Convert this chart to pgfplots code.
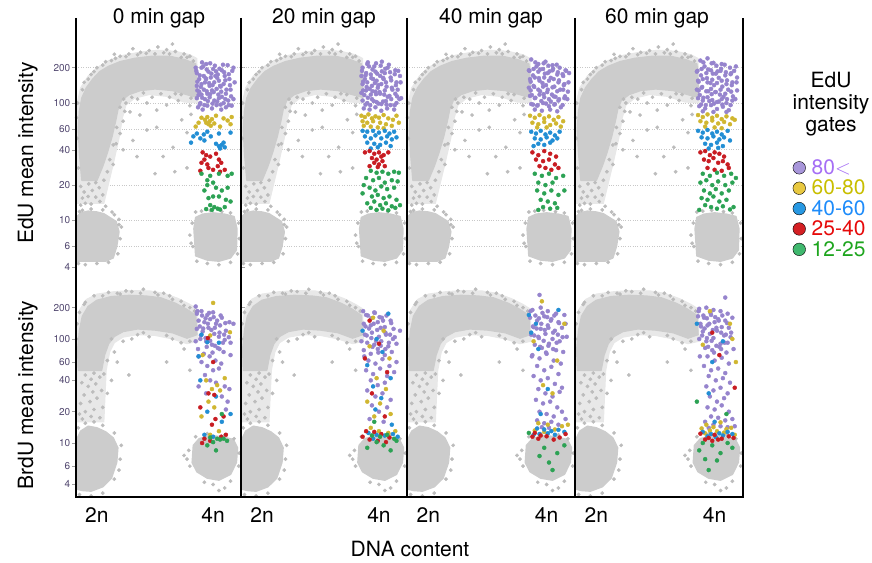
\documentclass[border=0pt]{standalone}
\usepackage{fontspec}
\setmainfont{TeX Gyre Heros}
\usepackage{pgfplots}
\usepackage{pgfplotstable}
\pgfplotsset{compat=1.18}

\definecolor{ptgrey}{RGB}{188,188,188}
\definecolor{blobgrey}{RGB}{204,204,204}
\definecolor{halogrey}{RGB}{232,232,232}
\definecolor{gridgrey}{RGB}{200,200,200}
\definecolor{tickgrey}{RGB}{160,160,160}
\definecolor{ticktext}{RGB}{80,70,110}
\definecolor{gpur}{RGB}{150,132,205}
\definecolor{gyel}{RGB}{208,182,48}
\definecolor{gblu}{RGB}{34,142,212}
\definecolor{gred}{RGB}{200,28,34}
\definecolor{ggrn}{RGB}{44,162,84}
\definecolor{mpur}{RGB}{168,150,218}
\definecolor{myel}{RGB}{232,200,64}
\definecolor{mblu}{RGB}{40,152,226}
\definecolor{mred}{RGB}{212,32,36}
\definecolor{mgrn}{RGB}{64,184,110}
\definecolor{lpur}{RGB}{165,110,245}
\definecolor{lyel}{RGB}{200,190,0}
\definecolor{lblu}{RGB}{30,140,250}
\definecolor{lred}{RGB}{230,10,10}
\definecolor{lgrn}{RGB}{30,165,30}

\newcommand\bigf{\fontsize{21}{24}\selectfont}

% grey populations, top row (EdU)
\pgfplotstableread{
x y
1.66 4.5
1.66 10.8
1.72 11.6
1.85 12.0
2.00 11.8
2.12 11.4
2.22 10.6
2.33 9.8
2.38 8.0
2.34 6.0
2.28 4.8
2.15 4.5
}\topTwoN
\pgfplotstableread{
x y
3.70 5.0
3.67 8.5
3.70 10.6
3.82 11.3
4.00 11.6
4.20 11.3
4.36 10.8
4.41 8.5
4.40 5.6
4.30 4.8
4.10 4.5
3.90 4.6
}\topFourN
\pgfplotstableread{
x y
1.66 14
1.65 60
1.66 100
1.72 135
1.85 170
2.00 200
2.20 230
2.45 255
2.75 272
3.05 282
3.35 276
3.60 258
3.72 240
3.74 100
3.50 102
3.20 114
2.90 118
2.65 110
2.50 96
2.44 75
2.38 50
2.28 30
2.12 14
}\topHalo
\pgfplotstableread{
x y
1.74 22
1.70 38
1.68 60
1.70 85
1.74 110
1.82 135
1.93 160
2.05 185
2.20 205
2.40 225
2.65 240
2.95 250
3.25 250
3.50 235
3.70 215
3.72 150
3.72 112
3.55 118
3.30 128
3.00 132
2.75 128
2.55 118
2.42 105
2.36 88
2.32 70
2.26 52
2.18 38
2.10 29
2.00 22
}\topArch
\pgfplotstableread{
x y
1.68 4.3
1.80 4.2
2.00 4.3
2.20 4.4
2.40 7.0
2.42 8.8
2.38 10.2
2.30 11.2
2.10 12.3
1.90 12.5
1.75 12.2
2.36 5.2
1.70 11.9
1.72 13.5
1.80 14.0
1.90 13.8
2.05 14.5
2.15 13.2
1.75 15.5
1.85 16.0
1.98 15.8
2.10 16.5
1.78 17.5
1.92 18.0
2.04 19.0
1.72 19.5
1.86 20.5
1.98 21.0
2.12 22.0
2.18 26.0
2.22 33.0
1.68 28.0
2.28 44.0
2.34 62.0
1.66 50
1.65 75
1.67 100
1.75 130
1.85 160
1.95 185
2.10 210
2.25 230
2.40 250
2.55 262
2.75 270
2.90 280
3.05 300
3.20 285
3.35 275
3.50 262
3.60 250
2.30 260
2.62 290
2.85 265
3.15 268
3.30 318
2.15 225
3.45 245
1.78 150
2.00 200
1.90 175
2.32 240
2.50 248
2.70 258
3.00 262
3.25 262
3.55 245
3.66 228
2.57 84
2.74 79
2.86 59
3.03 62
2.62 48
2.69 35
3.14 35
3.34 26
3.31 42
3.55 56
3.46 72
3.20 96
2.86 100
3.03 87
2.45 70
2.40 55
2.33 45
2.50 100
3.40 105
3.60 95
2.95 112
3.25 112
2.70 108
2.28 30
3.55 28
3.00 25
2.45 40
2.60 112
3.10 120
3.45 118
2.48 85
3.62 80
2.80 122
3.35 120
3.62 110
2.46 108
2.40 92
3.65 6.0
3.64 9.5
3.70 11.8
3.80 12.0
3.95 12.2
4.15 11.9
4.30 11.6
4.44 9.5
4.45 7.0
4.42 5.2
4.30 4.4
4.10 4.2
3.90 4.3
3.72 4.5
3.60 7.5
3.62 6.4
2.38 9.2
2.26 11.8
}\topGrey
% extra EdU-high cells shared by the top panels
\pgfplotstableread{
x y
3.71 188
3.77 172
3.83 205
3.89 193
3.97 178
4.03 208
4.11 196
4.19 183
4.27 176
4.33 188
3.73 152
3.79 137
3.87 163
3.93 148
3.99 142
4.07 164
4.13 138
4.21 156
4.29 142
4.37 150
3.75 117
3.81 111
3.89 126
3.95 119
4.01 124
4.09 118
4.15 113
4.23 130
4.31 114
4.35 108
3.77 97
3.85 96
3.91 104
3.99 99
4.07 103
4.13 97
4.21 108
4.27 96
3.73 128
4.05 186
3.81 222
3.95 218
4.17 212
}\topPurExtra

% grey populations, bottom row (BrdU)
\pgfplotstableread{
x y
1.66 3.6
1.66 11.0
1.72 13.0
1.85 14.5
2.00 14.0
2.15 12.8
2.28 11.2
2.36 9.0
2.34 6.5
2.25 4.6
2.10 3.8
1.90 3.45
1.75 3.5
}\botTwoN
\pgfplotstableread{
x y
3.64 6.5
3.66 9.5
3.76 11.0
3.95 11.8
4.15 11.5
4.35 10.8
4.42 9.0
4.40 6.5
4.30 5.0
4.10 4.4
3.90 4.6
3.72 5.3
}\botFourN
\pgfplotstableread{
x y
1.66 16
1.65 60
1.66 120
1.70 190
1.82 240
2.00 270
2.30 285
2.60 292
2.90 290
3.15 275
3.40 245
3.60 215
3.72 195
3.74 95
3.55 90
3.30 100
3.00 108
2.70 110
2.45 104
2.30 92
2.22 75
2.16 50
2.12 16
}\botHalo
\pgfplotstableread{
x y
1.68 50
1.67 80
1.70 120
1.75 165
1.85 205
2.00 235
2.25 255
2.55 262
2.85 258
3.10 248
3.35 220
3.55 192
3.70 168
3.72 110
3.55 102
3.30 115
3.00 122
2.70 125
2.45 118
2.30 106
2.20 90
2.13 70
2.08 50
}\botArch
\pgfplotstableread{
x y
1.70 3.2
1.90 3.1
2.10 3.3
2.30 4.5
2.40 7.0
2.42 9.5
2.30 12.5
2.10 14.8
1.80 15.5
1.95 16.0
2.38 5.5
1.68 14.0
1.75 17
1.90 18
2.05 17.5
1.80 20
1.95 21
2.10 22
1.72 24
1.88 25
2.00 27
1.78 29
1.93 31
2.08 32
1.85 35
1.98 37
1.74 38
1.90 41
2.05 43
1.80 45
1.95 47
2.12 46
2.18 30
1.70 19
2.45 95
2.30 75
2.70 110
3.30 100
3.50 80
2.90 105
2.55 45
3.20 60
2.35 60
3.60 50
2.60 100
3.45 92
2.25 40
1.65 100
1.70 180
1.80 225
1.95 260
2.20 280
2.50 290
2.80 300
3.00 280
3.25 260
3.45 230
3.60 200
2.60 285
3.15 275
2.35 275
1.66 140
3.68 185
2.10 260
2.40 270
2.75 275
3.05 265
3.30 240
3.50 210
1.78 215
2.25 100
2.80 115
3.20 108
3.60 95
2.18 62
3.55 7.0
3.58 8.5
3.60 6.0
3.70 11.5
3.90 12.3
4.20 12.0
4.45 8.0
4.44 6.0
4.30 4.3
4.00 4.0
4.20 3.7
3.85 4.2
4.36 11.0
3.50 7.6
4.10 3.5
}\botGrey
% extra EdU-high cells shared by the bottom panels
\pgfplotstableread{
x y
3.73 185
3.81 168
3.87 158
3.93 178
4.01 162
4.07 150
4.13 168
4.21 142
3.77 132
3.83 126
3.91 140
3.97 122
4.03 128
4.11 115
4.19 110
4.27 104
3.79 108
3.87 102
3.95 96
4.03 86
4.11 80
4.17 92
3.89 84
3.75 68
3.99 74
}\botPurExtra

\pgfplotsset{
  /pgfplots/cellbase/.style={scale only axis, xmin=1.64, xmax=4.48,
    axis line style={draw=none}, xtick=\empty, yminorticks=false,
    tick align=outside, major tick length=4pt,
    ytick style={draw=tickgrey, line width=0.5pt},
    yticklabel style={font=\fontsize{10}{12}\selectfont, text=ticktext, inner sep=1.5pt},
    x tick style={draw=none},
    xticklabel style={font=\bigf, text=black, yshift=-3pt}},
  /pgfplots/celltop/.style={cellbase, height=254pt, ymin=3.64, ymax=530,
    ytick={6,10,20,40,60,100,200}, ymajorgrids,
    major grid style={dotted, gridgrey, line width=0.6pt}},
  /pgfplots/cellbot/.style={cellbase, height=212pt, ymin=3.03, ymax=330,
    xtick={2,4}, xticklabels={2n,4n}},
  /pgfplots/celllab/.style={yticklabels={}, major tick length=0pt},
  /pgfplots/halofill/.style={fill=halogrey, draw=halogrey, line width=1pt},
  /pgfplots/blobfill/.style={fill=blobgrey, draw=blobgrey, line width=1.5pt, line join=round},
  /pgfplots/dotgrey/.style={only marks, mark=*, mark size=1.7pt, color=ptgrey},
  /pgfplots/dotpur/.style={only marks, mark=*, mark size=2.0pt, color=gpur},
  /pgfplots/dotyel/.style={only marks, mark=*, mark size=2.0pt, color=gyel},
  /pgfplots/dotblu/.style={only marks, mark=*, mark size=2.0pt, color=gblu},
  /pgfplots/dotred/.style={only marks, mark=*, mark size=2.0pt, color=gred},
  /pgfplots/dotgrn/.style={only marks, mark=*, mark size=2.0pt, color=ggrn},
}

\newcommand\topgrey{%
  \addplot[halofill] table {\topHalo} -- cycle;
  \addplot[blobfill] table {\topTwoN} -- cycle;
  \addplot[blobfill] table {\topFourN} -- cycle;
  \addplot[blobfill] table {\topArch} -- cycle;
  \addplot[dotgrey] table {\topGrey};
  \addplot[dotpur] table {\topPurExtra};
}
\newcommand\botgrey{%
  \addplot[halofill] table {\botHalo} -- cycle;
  \addplot[blobfill] table {\botTwoN} -- cycle;
  \addplot[blobfill] table {\botFourN} -- cycle;
  \addplot[blobfill] table {\botArch} -- cycle;
  \addplot[dotgrey] table {\botGrey};
  \addplot[dotpur] table {\botPurExtra};
}

\begin{document}
\begin{tikzpicture}
\useasboundingbox (0pt,0pt) rectangle (872pt,562pt);

% ---------------- top row: EdU ----------------
\begin{axis}[ymode=log, celltop, at={(76pt,290pt)}, anchor=south west, width=165pt,
  yticklabels={6,10,20,40,60,100,200},
  extra y ticks={4}, extra y tick labels={4}, extra y tick style={grid=none}]
\topgrey
\addplot[dotpur] coordinates {(3.72,180) (3.80,200) (3.88,215) (3.76,160) (3.84,170) (3.92,185) (4.00,195) (4.08,175) (4.15,190) (4.25,210) (4.35,200)
 (3.72,140) (3.80,145) (3.86,150) (3.94,140) (4.02,150) (4.10,155) (4.18,145) (4.28,160) (3.76,125) (3.84,130) (3.90,120) (3.98,128) (4.06,132) (4.14,125) (4.22,120) (4.30,130)
 (3.72,110) (3.78,100) (3.86,108) (3.94,112) (4.02,105) (4.10,110) (4.18,100) (4.26,105) (3.74,92) (3.82,88) (3.90,95) (3.98,90) (4.06,96) (4.14,88) (4.22,92) (4.32,95)
 (3.88,160) (3.96,165) (4.04,170) (3.80,118) (4.12,140) (3.70,200) (4.20,170)};
\addplot[dotyel] coordinates {(3.80,75) (3.86,72) (3.90,76) (3.94,70) (3.98,73) (3.92,66) (3.96,64) (4.02,67) (3.88,68) (3.75,68) (4.18,74) (4.25,71) (4.32,76) (4.30,66) (4.12,63) (4.05,78) (3.70,63)};
\addplot[dotblu] coordinates {(3.66,52) (3.72,55) (3.78,50) (3.84,54) (3.90,57) (3.96,52) (4.10,55) (4.30,56) (3.62,46) (4.05,45) (4.10,43) (4.15,44) (4.20,42) (4.12,41) (4.18,46) (3.85,48)};
\addplot[dotred] coordinates {(3.82,38) (3.88,36) (3.85,33) (3.80,31) (3.90,30) (3.95,35) (4.05,37) (4.10,33) (4.08,29) (4.14,31) (4.00,27) (3.92,28) (4.12,26) (3.78,26.5) (4.20,27)};
\addplot[dotgrn] coordinates {(3.80,25) (3.95,24) (4.10,25) (4.25,24) (4.32,25) (4.00,21) (3.90,20) (4.05,19) (3.85,18) (4.15,18) (4.25,19) (4.00,16) (4.10,16) (3.92,15.5) (4.22,15) (4.30,14.5) (3.95,13.5) (4.02,13) (4.08,12.6) (3.98,12.3) (4.12,12.4) (4.20,13) (3.88,12.5) (3.90,22)};
\end{axis}

\begin{axis}[ymode=log, celltop, celllab, at={(241pt,290pt)}, anchor=south west, width=166pt]
\topgrey
\addplot[dotpur] coordinates {(3.72,200) (3.80,215) (3.92,205) (4.05,225) (4.15,200) (4.28,190) (4.36,170)
 (3.70,170) (3.78,180) (3.86,175) (3.94,185) (4.02,170) (4.10,180) (4.20,165) (4.30,150)
 (3.72,145) (3.80,150) (3.88,140) (3.96,155) (4.04,145) (4.12,150) (4.22,135) (4.32,130)
 (3.70,122) (3.78,128) (3.86,118) (3.94,125) (4.02,120) (4.10,128) (4.18,115) (4.28,120) (4.38,110)
 (3.72,105) (3.80,100) (3.88,108) (3.96,102) (4.04,98) (4.12,104) (4.20,96) (4.30,100)
 (3.74,90) (3.84,88) (3.94,92) (4.04,86) (4.14,90) (4.26,88) (3.76,160) (3.90,160) (4.08,160) (3.98,135) (3.84,132)};
\addplot[dotyel] coordinates {(3.70,78) (3.76,76) (3.82,80) (3.88,74) (3.94,77) (4.00,75) (4.08,79) (4.16,74) (4.24,72) (4.30,78) (3.72,70) (3.80,68) (3.90,70) (4.02,68) (4.12,66) (4.22,64) (4.34,68) (3.86,63) (3.98,62) (4.08,61) (3.74,64)};
\addplot[dotblu] coordinates {(3.72,58) (3.80,57) (3.90,58) (4.00,56) (4.10,58) (4.18,55) (4.26,57) (3.76,52) (3.86,50) (3.94,53) (4.04,50) (4.14,52) (4.22,49) (4.30,51) (3.80,46) (3.92,45) (4.02,44) (4.12,46) (4.20,43) (3.86,41) (3.98,42)};
\addplot[dotred] coordinates {(3.76,38) (3.84,39) (3.92,37) (4.00,38) (4.08,36) (3.88,34) (3.96,33) (4.04,35) (3.92,31) (4.00,30) (4.06,32) (3.84,29) (3.98,28.5) (4.10,29) (4.16,38)};
\addplot[dotgrn] coordinates {(3.86,26.5) (3.96,25.5) (4.06,26) (4.16,25) (4.26,26) (4.34,25.5) (3.78,23) (3.90,22) (4.00,23) (4.10,21) (4.22,22) (4.32,21.5) (3.84,19) (3.94,18) (4.04,19.5) (4.14,18.5) (4.26,19) (3.72,17) (3.88,16) (3.98,16.5) (4.08,15.5) (4.18,16) (4.30,15) (3.80,14) (3.92,14.5) (4.02,13.5) (4.12,14) (4.22,13.2) (3.86,12.8) (3.96,12.3) (4.06,12.6) (4.16,12.2) (4.28,12.8) (4.36,13.5) (3.74,20)};
\end{axis}

\begin{axis}[ymode=log, celltop, celllab, at={(407pt,290pt)}, anchor=south west, width=168pt]
\topgrey
\addplot[dotpur] coordinates {(3.74,235) (3.86,215) (3.98,225) (4.10,210) (4.22,200) (4.32,190)
 (3.70,190) (3.78,195) (3.86,185) (3.94,195) (4.02,180) (4.10,190) (4.18,175) (4.28,170) (4.38,180)
 (3.72,160) (3.80,165) (3.88,155) (3.96,165) (4.04,155) (4.12,160) (4.20,150) (4.30,145)
 (3.70,135) (3.78,140) (3.86,130) (3.94,138) (4.02,130) (4.10,136) (4.18,126) (4.28,130) (4.36,125)
 (3.72,115) (3.80,110) (3.88,118) (3.96,112) (4.04,108) (4.12,114) (4.20,105) (4.30,110)
 (3.74,98) (3.84,95) (3.94,100) (4.04,94) (4.14,98) (4.24,92) (3.80,88) (3.92,86) (4.06,88) (4.18,85)};
\addplot[dotyel] coordinates {(3.72,78) (3.80,75) (3.88,79) (3.96,74) (4.04,77) (4.12,72) (4.20,76) (4.28,70) (3.76,68) (3.86,66) (3.96,69) (4.06,65) (4.16,67) (3.84,62) (4.00,62) (4.24,63)};
\addplot[dotblu] coordinates {(3.74,57) (3.82,55) (3.90,58) (3.98,54) (4.06,56) (4.14,53) (4.22,57) (3.80,50) (3.90,49) (4.00,51) (4.10,48) (4.18,50) (3.86,45) (3.96,44) (4.06,46) (3.78,43)};
\addplot[dotred] coordinates {(3.76,38) (3.86,36) (3.96,39) (4.06,37) (4.16,35) (3.82,33) (3.94,32) (4.04,33) (4.14,30) (3.88,29) (3.98,28) (4.08,27) (4.20,28)};
\addplot[dotgrn] coordinates {(3.80,25) (3.92,24) (4.04,25) (4.16,23) (4.28,24) (3.86,21) (3.98,20) (4.10,21) (3.84,18) (3.96,17) (4.08,18) (4.20,16.5) (3.90,15) (4.02,14.5) (4.14,14) (3.94,13) (4.06,12.6) (3.86,12.3) (4.18,12.8) (4.30,18)};
\end{axis}

\begin{axis}[ymode=log, celltop, celllab, at={(575pt,290pt)}, anchor=south west, width=168pt,
  legend style={at={(1.277,0.455)}, anchor=north west, draw=none, fill=none,
    font=\bigf, row sep=2pt, column sep=5pt, nodes={inner sep=1pt}},
  legend cell align=left,
  legend image code/.code={\fill[#1] (0pt,0pt) circle (6.3pt);}]
\addlegendimage{fill=mpur}\addlegendentry{\textcolor{lpur}{80$<$}}
\addlegendimage{fill=myel}\addlegendentry{\textcolor{lyel}{60-80}}
\addlegendimage{fill=mblu}\addlegendentry{\textcolor{lblu}{40-60}}
\addlegendimage{fill=mred}\addlegendentry{\textcolor{lred}{25-40}}
\addlegendimage{fill=mgrn}\addlegendentry{\textcolor{lgrn}{12-25}}
\topgrey
\addplot[dotpur] coordinates {(3.76,230) (3.88,240) (3.98,220) (4.12,215) (4.26,200) (4.36,205)
 (3.70,185) (3.78,195) (3.86,180) (3.94,190) (4.02,178) (4.10,188) (4.18,172) (4.28,180) (4.38,165)
 (3.72,155) (3.80,160) (3.88,150) (3.96,158) (4.04,148) (4.12,155) (4.20,145) (4.30,150)
 (3.70,130) (3.78,135) (3.86,126) (3.94,132) (4.02,124) (4.10,130) (4.18,120) (4.28,125) (4.38,128)
 (3.72,110) (3.80,105) (3.88,112) (3.96,106) (4.04,102) (4.12,108) (4.20,100) (4.30,105)
 (3.74,94) (3.84,90) (3.94,96) (4.04,89) (4.14,93) (4.24,87) (3.80,85) (3.98,84) (4.20,84)};
\addplot[dotyel] coordinates {(3.72,79) (3.80,76) (3.88,80) (3.96,75) (4.04,78) (4.12,73) (4.20,77) (4.30,74) (3.76,70) (3.86,68) (3.96,71) (4.06,67) (4.16,69) (4.26,66) (3.84,63) (4.00,62) (4.12,61) (4.34,72)};
\addplot[dotblu] coordinates {(3.72,58) (3.80,56) (3.88,59) (3.96,55) (4.04,57) (4.12,54) (4.22,58) (3.78,51) (3.88,50) (3.98,52) (4.08,49) (4.16,51) (4.26,48) (3.84,45) (3.94,44) (4.04,46) (4.14,43) (3.90,41) (4.06,41.5)};
\addplot[dotred] coordinates {(3.76,38) (3.84,39) (3.92,36) (4.00,38) (4.08,37) (4.16,35) (3.82,33) (3.90,32) (3.98,34) (4.06,31) (4.14,32) (4.22,30) (3.88,28) (4.00,27) (4.12,26.5) (4.24,28)};
\addplot[dotgrn] coordinates {(3.80,25) (3.92,24) (4.04,25.5) (4.16,24) (4.28,25) (4.36,23) (3.76,21) (3.86,22) (3.96,20) (4.06,21.5) (4.18,20) (4.30,21) (3.82,18) (3.92,17) (4.02,18.5) (4.12,17) (4.24,18) (3.78,15.5) (3.88,15) (3.98,16) (4.08,14.5) (4.20,15) (3.84,13.5) (3.94,13) (4.04,12.6) (4.14,13.2) (4.26,12.4) (3.74,12.3) (4.32,13)};
\end{axis}

% ---------------- bottom row: BrdU ----------------
\begin{axis}[ymode=log, cellbot, at={(76pt,65pt)}, anchor=south west, width=165pt,
  ytick={4,6,10,20,40,60,100,200}, yticklabels={4,6,10,20,40,60,100,200}]
\botgrey
\addplot[dotpur] coordinates {(3.72,175) (3.80,185) (3.90,170) (4.00,180) (4.15,160) (4.28,145) (3.75,150) (3.85,145) (3.95,155) (4.05,140) (4.12,135) (4.22,120) (3.72,125) (3.82,118) (3.92,128) (4.02,112) (4.10,105) (4.20,98) (4.30,92) (3.78,100) (3.88,95) (3.98,88) (4.08,82) (4.18,75) (3.74,80) (3.84,72) (3.94,68) (4.04,62) (4.14,58) (3.80,60) (3.90,55) (4.00,50) (4.10,52) (3.86,45) (3.95,40) (4.05,38) (4.20,35) (4.28,33) (3.75,35) (3.88,30) (4.15,28) (4.25,25) (4.22,21) (3.70,205) (4.35,140) (4.30,70) (3.70,95)};
\addplot[dotyel] coordinates {(4.00,222) (4.29,116) (3.82,70) (3.95,108) (4.07,36) (3.98,33) (4.12,32) (3.88,40) (4.20,42) (3.92,25) (4.02,22) (3.80,18) (4.10,13) (3.95,12)};
\addplot[dotblu] coordinates {(3.90,93) (4.10,92) (3.75,68) (3.80,110) (3.78,40) (4.05,28) (3.90,20) (4.30,19) (4.15,16) (3.85,12) (4.00,11.5)};
\addplot[dotred] coordinates {(3.91,102) (4.00,60) (3.78,22) (3.98,15) (3.81,10) (4.14,11.5) (3.92,30) (4.02,29) (4.18,18) (3.85,11) (3.95,10.5) (4.22,12) (4.04,17)};
\addplot[dotgrn] coordinates {(4.07,11) (4.12,10.8) (4.18,11) (4.24,10.5) (4.00,10.2) (3.95,11.3) (4.15,19) (4.05,8.5) (3.90,9.5)};
\end{axis}

\begin{axis}[ymode=log, cellbot, at={(241pt,65pt)}, anchor=south west, width=166pt, ytick=\empty]
\botgrey
\addplot[dotpur] coordinates {(3.78,170) (3.92,180) (4.05,160) (4.20,150) (3.74,140) (3.86,135) (3.98,145) (4.10,130) (4.25,125) (3.76,110) (3.88,115) (4.00,105) (4.12,110) (4.24,100) (3.80,92) (3.92,88) (4.04,95) (4.16,85) (4.30,90) (3.74,78) (3.86,72) (3.98,80) (4.10,70) (4.22,75) (3.82,62) (3.94,58) (4.06,64) (4.18,55) (3.78,50) (3.90,46) (4.02,52) (4.14,44) (4.26,48) (3.86,40) (3.98,36) (4.10,38) (3.80,32) (3.94,28) (4.06,30) (4.20,26) (3.88,23) (4.00,20) (4.14,22) (3.84,17) (4.08,16) (4.30,60) (4.36,120) (3.70,95)};
\addplot[dotyel] coordinates {(3.90,160) (4.08,120) (3.84,85) (4.18,65) (3.96,42) (4.12,33) (3.80,25) (4.02,24) (3.92,18) (4.20,19) (3.86,14) (4.00,13) (4.16,12.5) (4.28,13)};
\addplot[dotblu] coordinates {(4.16,175) (3.72,120) (3.96,100) (4.06,75) (3.80,56) (4.20,42) (3.90,35) (4.04,27) (3.94,21) (4.22,15) (3.82,12.5) (3.96,12) (4.10,11.8) (4.24,12.2) (4.32,11.5) (3.90,11)};
\addplot[dotred] coordinates {(3.84,150) (4.00,90) (3.76,65) (4.14,48) (3.88,30) (4.10,18) (3.78,13) (3.92,12.8) (4.04,12.2) (4.18,11.3) (3.84,10.8) (3.98,10.5) (4.12,10.2) (3.72,11.5)};
\addplot[dotgrn] coordinates {(4.02,11.5) (4.14,12) (3.88,11.8) (4.26,11) (3.96,10.2) (4.08,9.5) (3.80,9) (4.20,8.5) (4.30,10.5) (3.92,16)};
\end{axis}

\begin{axis}[ymode=log, cellbot, at={(407pt,65pt)}, anchor=south west, width=168pt, ytick=\empty]
\botgrey
\addplot[dotpur] coordinates {(3.88,265) (3.76,190) (3.90,200) (4.02,185) (4.16,175) (4.30,170) (3.72,160) (3.84,150) (3.96,165) (4.08,155) (4.20,145) (4.32,140) (3.78,130) (3.90,125) (4.02,135) (4.14,120) (4.26,128) (3.74,110) (3.86,105) (3.98,112) (4.10,100) (4.22,95) (4.34,105) (3.80,88) (3.92,82) (4.04,90) (4.16,78) (4.28,75) (3.76,70) (3.88,65) (4.00,72) (4.12,62) (4.24,58) (3.84,55) (3.96,50) (4.08,54) (4.20,46) (3.78,44) (3.90,40) (4.02,42) (4.14,37) (4.26,34) (3.86,33) (3.98,30) (4.10,28) (4.22,31) (3.82,26) (3.94,24) (4.06,25) (4.18,22) (3.88,20) (4.00,19) (4.12,18) (4.26,20) (3.84,16.5) (3.96,15.5) (4.08,16) (4.20,15) (4.32,17) (3.92,14.2) (4.04,14)};
\addplot[dotyel] coordinates {(3.92,230) (3.78,95) (4.30,140) (4.18,62) (3.94,36) (3.86,15.5) (4.02,15) (4.14,13.5) (4.26,14.5) (3.80,13.2) (3.96,12.8) (4.36,15) (4.10,30)};
\addplot[dotblu] coordinates {(4.20,190) (3.70,170) (3.82,140) (3.74,115) (3.86,80) (4.02,33) (3.90,19) (3.84,13.8) (3.96,13.5) (4.08,13) (4.20,13.4) (4.30,12.8) (3.88,12.2) (4.14,12) (4.02,12.4) (3.78,12)};
\addplot[dotred] coordinates {(3.80,12.5) (3.90,11.8) (3.76,11.5) (4.00,11.6) (4.12,10.8) (4.22,11.3) (3.86,11) (4.32,12.2)};
\addplot[dotgrn] coordinates {(3.88,7.5) (4.04,6.5) (4.18,8) (4.30,9.5) (3.70,12.5) (3.96,9) (4.10,5.5)};
\end{axis}

\begin{axis}[ymode=log, cellbot, at={(575pt,65pt)}, anchor=south west, width=168pt, ytick=\empty]
\botgrey
\addplot[dotpur] coordinates {(4.18,250) (3.74,195) (3.86,200) (3.98,190) (4.10,185) (4.22,175) (3.72,165) (3.82,160) (3.94,170) (4.06,155) (4.18,150) (4.30,160) (3.76,140) (3.88,135) (4.00,145) (4.12,130) (4.24,128) (3.80,118) (3.92,112) (4.04,120) (4.16,108) (4.28,115) (3.74,100) (3.86,95) (3.98,102) (4.10,90) (4.22,92) (3.84,82) (3.96,78) (4.08,84) (4.20,74) (4.32,80) (3.88,68) (4.00,62) (4.12,66) (4.24,58) (3.82,55) (3.94,50) (4.06,52) (4.18,47) (3.90,44) (4.02,40) (4.14,42) (4.26,38) (3.86,35) (3.98,32) (4.10,34) (4.22,30) (3.92,28) (4.04,25) (4.16,27) (3.88,22) (4.00,21) (4.12,23) (4.24,20) (3.94,18) (4.06,17.5) (4.18,16.5) (3.84,16) (4.30,17) (3.98,15) (4.10,14.5) (4.22,14.2) (3.90,14) (4.34,14.5)};
\addplot[dotyel] coordinates {(3.92,185) (4.26,140) (4.30,100) (3.80,88) (4.36,60) (3.86,15) (3.98,14.2) (4.10,15.8) (4.20,13.6) (3.78,13.8) (3.92,13.2) (4.04,13) (4.16,12.6) (4.28,14) (3.84,12.4) (4.34,12)};
\addplot[dotblu] coordinates {(3.70,140) (4.14,95) (3.96,60) (3.90,30) (4.00,16) (3.80,12.8) (3.94,12.2) (4.08,12.4) (4.22,12.8) (4.30,12.2) (3.88,11.6) (4.02,11.4) (4.14,11.8)};
\addplot[dotred] coordinates {(3.96,115) (4.08,70) (4.34,34) (3.76,12.3) (3.90,11.2) (4.00,12) (4.12,11) (4.24,11.6) (4.32,11.2) (3.84,10.8) (3.96,10.5) (4.06,10.8)};
\addplot[dotgrn] coordinates {(3.70,25) (4.20,19) (3.74,8.5) (3.84,7) (3.96,9.5) (4.10,8) (4.22,10) (4.30,9) (3.90,5.5) (4.04,6.8) (3.80,10)};
\end{axis}

% panel frame
\draw[line width=2.6pt] (76pt,544pt) -- (76pt,65pt) -- (743pt,65pt) -- (743pt,544pt);
\draw[line width=2.6pt] (241pt,544pt) -- (241pt,65pt);
\draw[line width=2.6pt] (407pt,544pt) -- (407pt,65pt);
\draw[line width=2.6pt] (575pt,544pt) -- (575pt,65pt);

% titles and labels
\node[font=\bigf, anchor=base] at (159pt,538pt) {0 min gap};
\node[font=\bigf, anchor=base] at (324pt,538pt) {20 min gap};
\node[font=\bigf, anchor=base] at (491pt,538pt) {40 min gap};
\node[font=\bigf, anchor=base] at (657pt,538pt) {60 min gap};
\node[font=\bigf, anchor=base, rotate=90] at (33pt,409pt) {EdU mean intensity};
\node[font=\bigf, anchor=base, rotate=90] at (33pt,167pt) {BrdU mean intensity};
\node[font=\bigf, anchor=base] at (410pt,6pt) {DNA content};
\node[font=\bigf, anchor=base] at (831pt,474pt) {EdU};
\node[font=\bigf, anchor=base] at (831pt,452pt) {intensity};
\node[font=\bigf, anchor=base] at (831pt,430pt) {gates};
\end{tikzpicture}
\end{document}
